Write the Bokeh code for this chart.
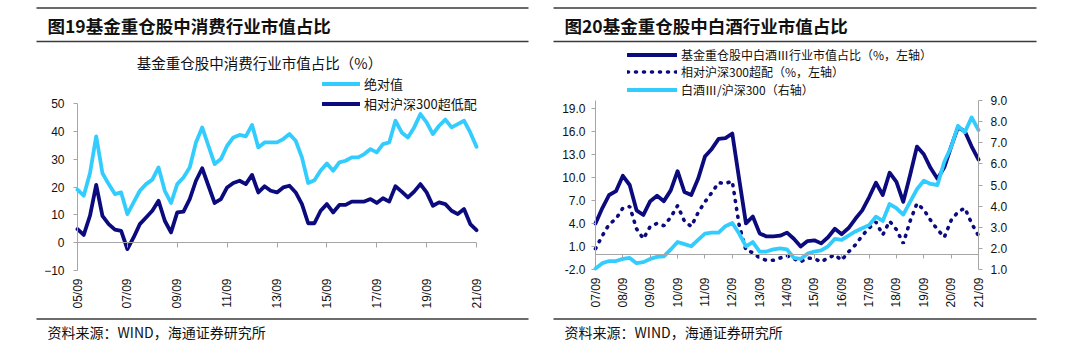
from math import pi
from bokeh.plotting import figure
from bokeh.layouts import row
from bokeh.models import (Range1d, LinearAxis, FixedTicker, Label, Legend, LegendItem,
                          BoxAnnotation, NumeralTickFormatter)
from bokeh.embed import file_html
from bokeh.resources import INLINE

NAVY = "#0B0B7E"
CYAN = "#33CCFF"
AXC = "#A6A6A6"
CJK = "Noto Sans CJK SC"
LAT = "Liberation Sans"
W, H = 540, 354

# ---------------- data: left chart (quarterly, 2005Q3 .. 2021Q3) ----------------
left_tick_labels = ["05/09", "07/09", "09/09", "11/09", "13/09", "15/09", "17/09", "19/09", "21/09"]
cons_abs = [19.1, 16.9, 25.0, 38.3, 25.0, 21.1, 17.5, 18.1, 10.3, 14.5,
            18.7, 21.1, 22.7, 27.1, 18.7, 14.3, 21.1, 23.5, 27.1, 36.1,
            41.5, 34.9, 28.3, 30.1, 34.9, 37.9, 38.8, 38.3, 42.4, 34.3,
            36.1, 36.1, 36.1, 37.3, 39.1, 36.7, 30.7, 21.5, 22.5, 26.0,
            28.5, 25.9, 28.9, 29.5, 30.7, 30.7, 31.9, 33.7, 32.5, 35.5,
            36.1, 43.9, 39.7, 37.9, 41.5, 46.3, 43.3, 39.1, 42.1, 44.3,
            41.5, 42.7, 43.9, 39.7, 34.5]
cons_rel = [4.9, 2.8, 9.7, 20.8, 9.7, 6.7, 4.7, 4.3, -2.3, 1.9,
            6.7, 9.1, 11.5, 15.1, 7.9, 3.7, 10.9, 11.2, 15.7, 22.3,
            26.8, 20.5, 14.3, 15.7, 19.9, 21.5, 22.3, 21.1, 24.4, 18.1,
            20.3, 18.7, 18.1, 19.9, 20.5, 18.1, 13.9, 7.0, 7.0, 11.5,
            13.9, 10.9, 13.6, 13.6, 14.8, 14.8, 14.8, 15.7, 14.3, 16.0,
            14.8, 20.3, 18.4, 16.3, 18.4, 21.1, 18.1, 13.3, 14.5, 13.9,
            11.5, 10.3, 12.1, 6.7, 4.5]
left_y_ticks = [-10, 0, 10, 20, 30, 40, 50]

# ---------------- data: right chart (quarterly, 2007Q3 .. 2021Q3) ----------------
right_tick_labels = ["07/09", "08/09", "09/09", "10/09", "11/09", "12/09", "13/09", "14/09",
                     "15/09", "16/09", "17/09", "18/09", "19/09", "20/09", "21/09"]
liquor_share = [4.0, 6.0, 7.7, 8.2, 10.2, 9.0, 5.7, 5.1, 6.9, 7.6,
                6.9, 8.3, 10.8, 8.1, 7.7, 9.8, 12.7, 13.7, 15.0, 15.1,
                15.7, 9.8, 4.0, 4.9, 2.7, 2.3, 2.3, 2.4, 2.8, 2.0,
                1.0, 1.7, 1.8, 1.4, 2.2, 3.3, 2.6, 3.4, 4.6, 5.7,
                7.4, 9.3, 7.7, 10.6, 9.4, 6.8, 10.3, 14.0, 13.0, 11.2,
                9.8, 11.3, 14.0, 16.5, 16.0, 14.0, 12.3]
liquor_over = [0.7, 2.4, 3.9, 4.6, 6.0, 6.2, 3.3, 2.0, 3.6, 4.0,
               3.7, 4.8, 6.3, 4.3, 3.6, 5.4, 6.8, 8.0, 9.3, 9.2,
               9.5, 3.8, 0.5, 0.2, -0.5, -0.8, -0.8, -0.5, -0.2, -0.6,
               -1.0, -0.5, -0.6, -1.0, -0.5, -0.1, -0.8, 0.3, 1.2, 2.4,
               3.4, 4.2, 2.5, 4.3, 3.2, 1.4, 4.3, 6.6, 5.8, 4.4,
               3.2, 2.2, 4.4, 5.5, 6.0, 4.0, 2.4]
liquor_rel = [1.05, 1.3, 1.4, 1.4, 1.5, 1.55, 1.3, 1.35, 1.5, 1.6,
              1.62, 1.95, 2.3, 2.2, 2.1, 2.4, 2.7, 2.75, 2.75, 3.05,
              3.2, 2.7, 2.1, 2.3, 1.85, 1.85, 1.95, 2.0, 1.95, 1.55,
              1.5, 1.75, 1.85, 1.9, 2.1, 2.45, 2.4, 2.6, 2.8, 2.95,
              3.1, 3.5, 3.3, 4.1, 3.9, 3.6, 4.2, 4.8, 5.2, 5.05,
              5.0, 6.1, 6.8, 7.8, 7.5, 8.2, 7.6]
right_yl_ticks = [-2, 1, 4, 7, 10, 13, 16, 19]
right_yr_ticks = [1, 2, 3, 4, 5, 6, 7, 8, 9]


def span_range(v0, p0, v1, p1, size, invert=False):
    """Range whose values v0, v1 fall on canvas pixels p0, p1 (pixel measured from top if invert)."""
    if invert:
        p0, p1 = size - p0, size - p1
    per = (v1 - v0) / (p1 - p0)
    return Range1d(v0 - p0 * per, v0 + (size - p0) * per)


def make_fig(x_range, y_range):
    p = figure(width=W, height=H, output_backend="svg", toolbar_location=None,
               x_range=x_range, y_range=y_range,
               min_border=0, min_border_left=0, min_border_right=0,
               min_border_top=0, min_border_bottom=0)
    p.outline_line_color = None
    p.grid.visible = False
    p.background_fill_color = "white"
    p.border_fill_color = "white"
    return p


def style_yaxis(ax, ticks, bounds, fmt=None, standoff=8):
    ax.ticker = FixedTicker(ticks=ticks)
    ax.bounds = bounds
    if fmt is not None:
        ax.formatter = fmt
    ax.axis_line_color = AXC
    ax.major_tick_line_color = AXC
    ax.major_tick_out = 4
    ax.major_tick_in = 0
    ax.minor_tick_line_color = None
    ax.major_label_text_font = LAT
    ax.major_label_text_font_size = "12px"
    ax.major_label_text_color = "#111111"
    ax.major_label_standoff = standoff


def style_xlabels(ax, positions, labels):
    ax.ticker = FixedTicker(ticks=positions)
    ax.major_label_overrides = {pos: lab for pos, lab in zip(positions, labels)}
    ax.axis_line_color = None
    ax.major_tick_line_color = None
    ax.minor_tick_line_color = None
    ax.major_tick_out = 0
    ax.major_tick_in = 0
    ax.major_label_orientation = pi / 2
    ax.major_label_text_font = LAT
    ax.major_label_text_font_size = "12px"
    ax.major_label_text_color = "#111111"
    ax.major_label_standoff = 8


def zero_axis(p, positions, bounds, tick_len):
    ax = LinearAxis(fixed_location=0, bounds=bounds)
    ax.ticker = FixedTicker(ticks=positions)
    ax.major_label_overrides = {pos: "" for pos in positions}
    ax.axis_line_color = AXC
    ax.major_tick_line_color = AXC
    ax.major_tick_out = tick_len
    ax.major_tick_in = 0
    ax.minor_tick_line_color = None
    p.add_layout(ax, "below")


def txt(p, x, y, text, size, bold=False, align="left"):
    # x, y in canvas pixels measured from the top-left corner
    p.add_layout(Label(x=x, y=H - y, x_units="screen", y_units="screen", text=text,
                       text_font=CJK, text_font_size=size, text_align=align,
                       text_baseline="middle", text_color="#111111",
                       text_font_style="bold" if bold else "normal"))


def hline(p, x0, x1, y, thick=1.4):
    p.add_layout(BoxAnnotation(left=x0, right=x1, bottom=H - y - thick / 2, top=H - y + thick / 2,
                               left_units="screen", right_units="screen",
                               bottom_units="screen", top_units="screen",
                               fill_color="#3A3A3A", fill_alpha=1.0, line_color=None,
                               level="overlay"))


def legend_entry(p, label, renderer, x, y_center, glyph_w, size="13px"):
    # one legend entry, its centre at canvas pixel y_center (measured from top)
    lg = Legend(items=[LegendItem(label=label, renderers=[renderer])],
                location=(x, H - (y_center + 8)), orientation="vertical",
                label_text_font=CJK, label_text_font_size=size, label_text_color="#111111",
                glyph_width=glyph_w, glyph_height=15, label_height=15, label_standoff=4,
                spacing=0, padding=0, margin=0, border_line_color=None,
                background_fill_alpha=0)
    p.add_layout(lg)


# ================= LEFT FIGURE =================
n1 = len(cons_abs)
x1 = list(range(n1))
p1 = make_fig(span_range(0, 77, 64, 476, W), span_range(-10, 270, 50, 103.3, H, invert=True))
lt_pos = [8 * k for k in range(len(left_tick_labels))]
yax = p1.yaxis[0]
yax.fixed_location = 0
style_yaxis(yax, left_y_ticks, (-10, 50), standoff=9)
xax = p1.xaxis[0]
xax.fixed_location = -10
style_xlabels(xax, lt_pos, left_tick_labels)
zero_axis(p1, lt_pos, (0, 64), 5)
r_abs = p1.line(x1, cons_abs, line_color=CYAN, line_width=3.8, line_join="round", line_cap="round")
r_rel = p1.line(x1, cons_rel, line_color=NAVY, line_width=3.8, line_join="round", line_cap="round")
legend_entry(p1, "绝对值", r_abs, 322, 85, 38)
legend_entry(p1, "相对沪深300超低配", r_rel, 322, 105, 38)
txt(p1, 47, 25, "图19基金重仓股中消费行业市值占比", "17.5px", bold=True)
txt(p1, 259, 62, "基金重仓股中消费行业市值占比（%）", "14.5px", align="center")
txt(p1, 47, 331.5, "资料来源：WIND，海通证券研究所", "14px")
for yy in (7.5, 41, 318.5):
    hline(p1, 36, 528, yy)

# ================= RIGHT FIGURE =================
n2 = len(liquor_share)
x2 = list(range(n2))
p2 = make_fig(span_range(0, 55, 56, 438, W), span_range(-2, 269, 20, 100, H, invert=True))
p2.extra_y_ranges = {"r": span_range(1, 269, 9, 100, H, invert=True)}
rt_pos = [4 * k for k in range(len(right_tick_labels))]
yl = p2.yaxis[0]
yl.fixed_location = 0
style_yaxis(yl, right_yl_ticks, (-2, 20), NumeralTickFormatter(format="0.0"), standoff=6)
yr = LinearAxis(y_range_name="r", fixed_location=56)
style_yaxis(yr, right_yr_ticks, (1, 9), NumeralTickFormatter(format="0.0"), standoff=8)
p2.add_layout(yr, "right")
xax2 = p2.xaxis[0]
xax2.fixed_location = -2
style_xlabels(xax2, rt_pos, right_tick_labels)
zero_axis(p2, rt_pos, (0, 56), 4)
r_sh = p2.line(x2, liquor_share, line_color=NAVY, line_width=3.8, line_join="round", line_cap="round")
r_ov = p2.line(x2, liquor_over, line_color=NAVY, line_width=3.6, line_dash="1 7",
               line_cap="round")
r_rl = p2.line(x2, liquor_rel, line_color=CYAN, line_width=3.8, line_join="round",
               line_cap="round", y_range_name="r")
legend_entry(p2, "基金重仓股中白酒Ⅲ行业市值占比（%，左轴）", r_sh, 87, 54.5, 50, "12px")
legend_entry(p2, "相对沪深300超配（%，左轴）", r_ov, 87, 72, 50, "12px")
legend_entry(p2, "白酒Ⅲ/沪深300（右轴）", r_rl, 87, 89.5, 50, "12px")
txt(p2, 24, 25, "图20基金重仓股中白酒行业市值占比", "17.5px", bold=True)
txt(p2, 24, 331.5, "资料来源：WIND，海通证券研究所", "14px")
for yy in (7.5, 41, 318.5):
    hline(p2, 13, 496, yy)

layout = row(p1, p2)
open("out.html", "w").write(file_html(layout, INLINE))
